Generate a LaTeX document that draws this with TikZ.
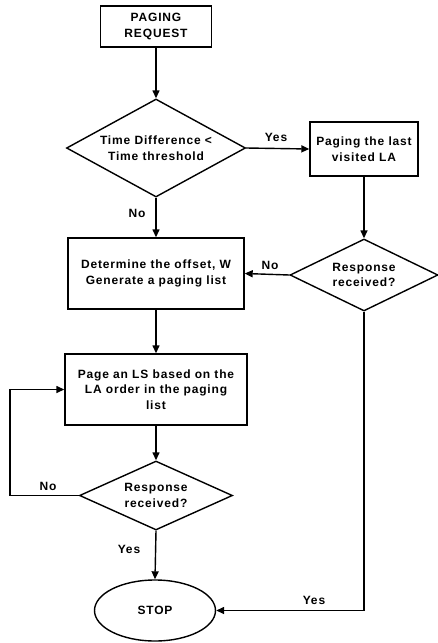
\documentclass[tikz,border=0pt]{standalone}
\usepackage{fontspec}
\setmainfont{Liberation Sans}[LetterSpace=7]
\usetikzlibrary{shapes.geometric,arrows.meta}
\begin{document}
\begin{tikzpicture}[x=1pt,y=-1pt,
  every node/.style={font=\fontsize{12}{15.5}\selectfont\bfseries},
  stepbox/.style={draw, line width=1.4pt, align=center, inner sep=0pt, rectangle},
  dia/.style={draw, diamond, line width=1.4pt, align=center, inner sep=0pt},
  term/.style={draw, ellipse, line width=1.4pt, inner sep=0pt},
  arr/.style={line width=1.4pt, -{Triangle[length=8pt,width=7pt]}},
  lbl/.style={inner sep=0pt}]
\useasboundingbox (0,0) rectangle (437,643);
\node[stepbox, minimum width=111pt, minimum height=41pt] (req) at (156,26.5) {PAGING\\REQUEST};
\node[dia, minimum width=179pt, minimum height=98pt, aspect=1.83] (d1) at (156,148) {Time Difference <\\Time threshold};
\node[stepbox, minimum width=108pt, minimum height=54pt] (last) at (364,149) {Paging the last\\visited LA};
\node[dia, minimum width=148pt, minimum height=72pt, aspect=2] (d2) at (364,275) {Response\\received?};
\node[stepbox, minimum width=176pt, minimum height=71pt] (det) at (156,273.5) {Determine the offset, W\\Generate a paging list};
\node[stepbox, minimum width=182pt, minimum height=71pt] (page) at (156,389.5) {Page an LS based on the\\LA order in the paging\\list};
\node[dia, minimum width=153pt, minimum height=69pt, aspect=2.2] (d3) at (156,495.5) {Response\\received?};
\node[term, minimum width=121pt, minimum height=61pt] (stop) at (155,610.5) {STOP};
\coordinate (loopL) at (10,495.5);
\coordinate (rightC) at (364,610.5);
% labels
\node[lbl] (yes1) at (276,137) {Yes};
\node[lbl] (no1) at (137,213) {No};
\node[lbl] (no2) at (270,265) {No};
\node[lbl] (no3) at (48,486) {No};
\node[lbl] (yes2) at (129,549) {Yes};
\node[lbl] (yes3) at (314,600) {Yes};
% connectors
\draw[arr] (req.south) -- (d1.north);
\draw[arr] (d1.east) -- (last.west);
\draw[arr] (last.south) -- (d2.north);
\draw[arr] (d2.west) -- (det.east);
\draw[arr] (d1.south) -- (det.north);
\draw[arr] (det.south) -- (page.north);
\draw[arr] (page.south) -- (d3.north);
\draw[arr] (d3.west) -- (loopL) |- (page.west);
\draw[arr] (d3.south) -- (stop.north);
\draw[arr] (d2.south) -- (rightC) -- (stop.east);
\end{tikzpicture}
\end{document}
